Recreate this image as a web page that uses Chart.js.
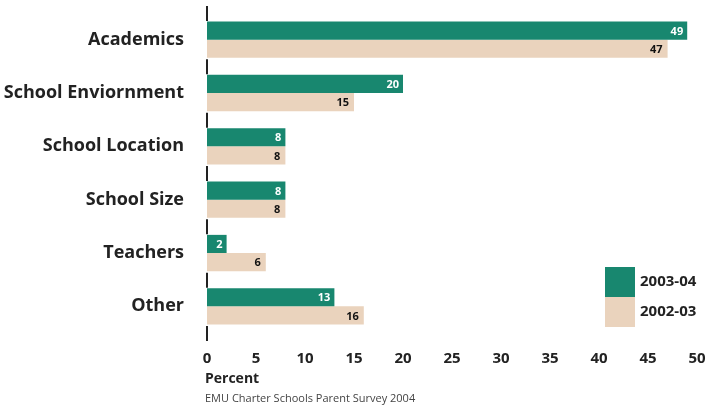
<!DOCTYPE html>
<html>
<head>
<meta charset="utf-8">
<script src="https://cdn.jsdelivr.net/npm/chart.js@4"></script>
<style>
  body { margin: 0; background: #fff; }
  #chart { display: block; }
</style>
</head>
<body>
<canvas id="chart" width="710" height="414"></canvas>
<script>
const categories = ['Academics', 'School Enviornment', 'School Location', 'School Size', 'Teachers', 'Other'];
const seriesNames = ['2003-04', '2002-03'];
const values0304 = [49, 20, 8, 8, 2, 13];
const values0203 = [47, 15, 8, 8, 6, 16];
const xMin = 0;
const xMax = 50;
const xStep = 5;
const axisTitle = 'Percent';
const sourceNote = 'EMU Charter Schools Parent Survey 2004';

const GREEN = '#18876f';
const TAN = '#ead3bd';
const INK = '#222';
const FONT = "'Open Sans', sans-serif";

// value labels at the inner end of each bar, category separators, legend, axis title and source line
const extras = {
  id: 'extras',
  afterDatasetsDraw(chart) {
    const ctx = chart.ctx;
    const x = chart.scales.x;
    const y = chart.scales.y;
    ctx.save();
    ctx.font = 'bold 11px ' + FONT;
    ctx.textAlign = 'right';
    ctx.textBaseline = 'middle';
    chart.data.datasets.forEach((ds, di) => {
      chart.getDatasetMeta(di).data.forEach((bar, i) => {
        ctx.fillStyle = di === 0 ? '#fff' : '#111';
        ctx.fillText(String(ds.data[i]), bar.x - (di === 0 ? 4 : 5), bar.y + 1);
      });
    });

    // short marks on the zero line between categories
    const x0 = x.getPixelForValue(0);
    const n = categories.length;
    const band = y.getPixelForValue(1) - y.getPixelForValue(0);
    ctx.strokeStyle = INK;
    ctx.lineWidth = 2;
    for (let i = 0; i <= n; i++) {
      const b = y.getPixelForValue(0) + band * (i - 0.5);
      ctx.beginPath();
      ctx.moveTo(x0, b - 7);
      ctx.lineTo(x0, b + 8);
      ctx.stroke();
    }

    // legend: two stacked swatches
    const lx = 605, ly = 267, sw = 30;
    ctx.textAlign = 'left';
    ctx.font = 'bold 15px ' + FONT;
    chart.data.datasets.forEach((ds, di) => {
      ctx.fillStyle = ds.backgroundColor;
      ctx.fillRect(lx, ly + di * sw, sw, sw);
      ctx.fillStyle = INK;
      ctx.fillText(ds.label, lx + sw + 5, ly + di * sw + sw / 2);
    });

    // axis title and source line below the tick labels
    ctx.font = 'bold 14px ' + FONT;
    ctx.fillStyle = INK;
    ctx.fillText(axisTitle, x0 - 2, 379);
    ctx.font = '11px ' + FONT;
    ctx.fillStyle = '#444';
    ctx.fillText(sourceNote, x0 - 2, 399);
    ctx.restore();
  }
};

new Chart(document.getElementById('chart'), {
  type: 'bar',
  data: {
    labels: categories,
    datasets: [
      { label: seriesNames[0], data: values0304, backgroundColor: GREEN },
      { label: seriesNames[1], data: values0203, backgroundColor: TAN }
    ]
  },
  options: {
    indexAxis: 'y',
    responsive: false,
    animation: false,
    events: [],
    layout: { padding: { top: 13, right: 13, bottom: 0, left: 0 } },
    datasets: { bar: { barPercentage: 1, categoryPercentage: 0.68 } },
    plugins: {
      legend: { display: false },
      tooltip: { enabled: false }
    },
    scales: {
      x: {
        min: xMin,
        max: xMax,
        grid: { display: false },
        border: { display: false },
        ticks: { stepSize: xStep, padding: 9, color: INK, font: { family: FONT, size: 15, weight: 'bold' } },
        afterFit(scale) {
          scale.height = 81;
          scale.paddingLeft = 0;
          scale.paddingRight = 0;
        }
      },
      y: {
        grid: { display: false },
        border: { display: false },
        ticks: { padding: 15, color: INK, font: { family: FONT, size: 18, weight: 'bold' } },
        afterFit(scale) {
          scale.width = 207;
          scale.paddingTop = 0;
          scale.paddingBottom = 0;
        }
      }
    }
  },
  plugins: [extras]
});
</script>
</body>
</html>
